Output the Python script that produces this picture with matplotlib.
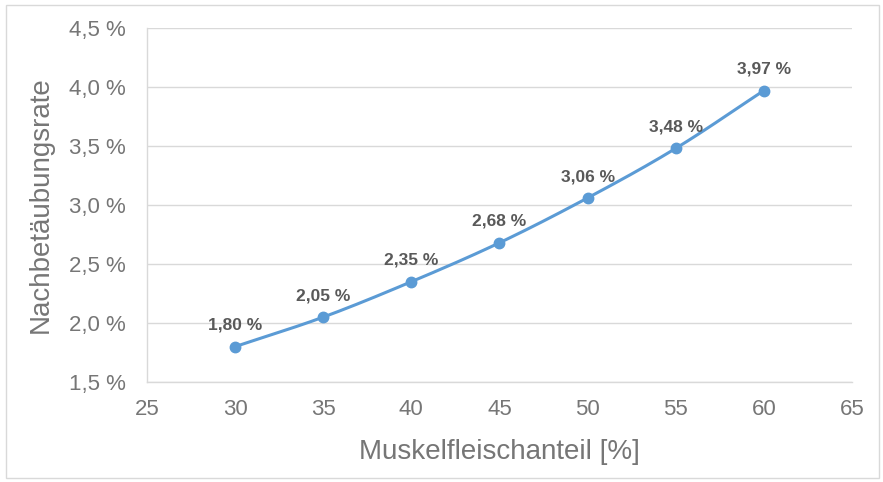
import numpy as np
import matplotlib
matplotlib.use("Agg")
import matplotlib.pyplot as plt
from matplotlib.patches import Rectangle

# Data
muskelfleisch = [30, 35, 40, 45, 50, 55, 60]
nachbetaeubung = [1.80, 2.05, 2.35, 2.68, 3.06, 3.48, 3.97]
x_ticks = [25, 30, 35, 40, 45, 50, 55, 60, 65]
y_ticks = [1.5, 2.0, 2.5, 3.0, 3.5, 4.0, 4.5]

plt.rcParams['font.family'] = ['Liberation Sans', 'DejaVu Sans']

LINE = '#5B9BD5'
TXT = '#767676'
LBL = '#595959'
GRID = '#D9D9D9'


def smooth(xs, ys, n=30):
    """Catmull-Rom style smoothing, similar to a spreadsheet's smoothed line."""
    xs = np.asarray(xs, float)
    ys = np.asarray(ys, float)
    px = np.concatenate([[2 * xs[0] - xs[1]], xs, [2 * xs[-1] - xs[-2]]])
    py = np.concatenate([[2 * ys[0] - ys[1]], ys, [2 * ys[-1] - ys[-2]]])
    outx, outy = [], []
    t = np.linspace(0, 1, n)
    for i in range(1, len(px) - 2):
        p0, p1, p2, p3 = (np.array([px[j], py[j]]) for j in range(i - 1, i + 3))
        c1 = p1 + (p2 - p0) / 6
        c2 = p2 - (p3 - p1) / 6
        b = ((1 - t) ** 3)[:, None] * p1 + (3 * (1 - t) ** 2 * t)[:, None] * c1 \
            + (3 * (1 - t) * t ** 2)[:, None] * c2 + (t ** 3)[:, None] * p2
        outx.extend(b[:, 0])
        outy.extend(b[:, 1])
    return np.array(outx), np.array(outy)


fig = plt.figure(figsize=(8.83, 4.82), dpi=100)
ax = fig.add_axes([147 / 883, 1 - 382 / 482, (852 - 147) / 883, (382 - 28) / 482])

sx, sy = smooth(muskelfleisch, nachbetaeubung)
ax.plot(sx, sy, color=LINE, lw=2.2, solid_capstyle='round', zorder=3)
ax.plot(muskelfleisch, nachbetaeubung, 'o', color=LINE, ms=7.5, zorder=4)

for x, y in zip(muskelfleisch, nachbetaeubung):
    ax.annotate(f"{y:.2f} %".replace('.', ','), (x, y), xytext=(0, 10),
                textcoords='offset points', ha='center', va='bottom',
                fontsize=12.5, fontweight='bold', color=LBL)

ax.set_xlim(25, 65)
ax.set_ylim(1.5, 4.5)
ax.set_xticks(x_ticks)
ax.set_xticklabels([str(v) for v in x_ticks])
ax.set_yticks(y_ticks)
ax.set_yticklabels([f"{v:.1f} %".replace('.', ',') for v in y_ticks])
ax.tick_params(axis='both', length=0, labelsize=16, colors=TXT)
ax.tick_params(axis='x', pad=12)
ax.tick_params(axis='y', pad=15)

ax.grid(axis='y', color=GRID, lw=1)
ax.set_axisbelow(True)
for s in ['top', 'right']:
    ax.spines[s].set_visible(False)
for s in ['left', 'bottom']:
    ax.spines[s].set_color(GRID)
    ax.spines[s].set_linewidth(1)

ax.set_xlabel('Muskelfleischanteil [%]', fontsize=20, color=TXT, labelpad=14)
ax.set_ylabel('Nachbetäubungsrate', fontsize=20, color=TXT, labelpad=11)

fig.patches.append(Rectangle((6 / 883, 4 / 482), 873 / 883, 473 / 482,
                             transform=fig.transFigure, fill=False,
                             edgecolor=GRID, lw=1))

fig.savefig('out.png', dpi=100)
